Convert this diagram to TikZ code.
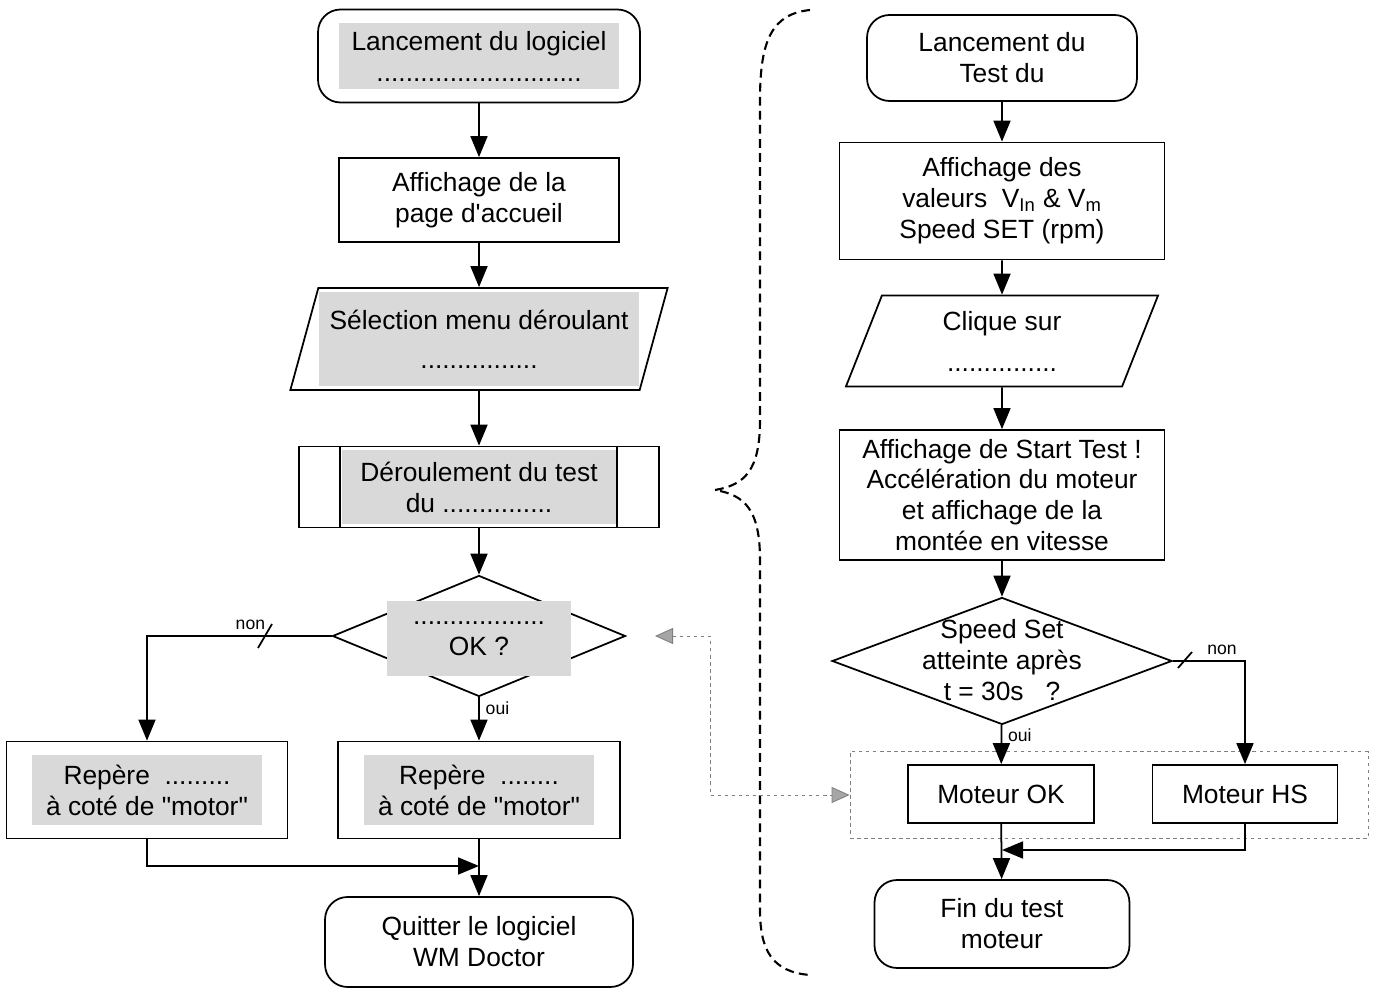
\documentclass[tikz,border=0pt]{standalone}
\usepackage{fontspec}
\setmainfont{Liberation Sans}
\usetikzlibrary{shapes.geometric,arrows.meta}
\setlength{\fboxsep}{0pt}
% texte sur fond grise
\newcommand{\grise}[3]{\colorbox{black!15}{\parbox[c][#2][c]{#1}{\centering #3}}}
% texte qui ne change pas la taille du losange
\newcommand{\centre}[1]{\smash{\makebox[0pt]{\raisebox{-0.18cm}{\begin{tabular}{@{}c@{}}#1\end{tabular}}}}}
\begin{document}
\begin{tikzpicture}[x=0.02cm,y=-0.02cm,line width=1pt,
	every node/.style={font=\fontsize{15}{17.6}\selectfont,align=center},
	boite/.style={rectangle,draw,fill=white,inner sep=0pt},
	debut/.style={boite,rounded corners=0.45cm},
	saisie/.style={trapezium,trapezium left angle=73.5,trapezium right angle=106.5,trapezium stretches=true,draw,fill=white,inner sep=0pt},
	test/.style={diamond,draw,fill=white,inner sep=0pt},
	fleche/.style={-{Triangle[length=0.42cm,width=0.34cm]}},
	lien/.style={draw=black!50,line width=0.5pt,dash pattern=on 2pt off 2pt,{Triangle[length=0.36cm,width=0.32cm,fill=black!35]}-{Triangle[length=0.36cm,width=0.32cm,fill=black!35]}},
	cadre/.style={draw=black!50,line width=0.5pt,dash pattern=on 2pt off 2pt,minimum width=10.36cm,minimum height=1.74cm},
	accolade/.style={line width=1.2pt,dash pattern=on 5pt off 3pt},
	petit/.style={font=\fontsize{10}{12}\selectfont}]
	\useasboundingbox (0,0) rectangle (1374,989);
	% colonne de gauche
	\node (start1) at (479,56) [debut,minimum width=6.44cm,minimum height=1.86cm] {\grise{5.6cm}{1.34cm}{Lancement du logiciel\\............................}};
	\node (affich) at (479,200) [boite,minimum width=5.6cm,minimum height=1.68cm] {Affichage de la\\page d\textquotesingle accueil};
	\node (selec) at (479,339) [saisie,minimum width=7.56cm,minimum height=2.04cm] {\grise{6.4cm}{1.88cm}{S\'election menu d\'eroulant\\[0.16cm]................}};
	\node (deroul) at (479,487) [boite,minimum width=7.2cm,minimum height=1.62cm] {\grise{5.5cm}{1.5cm}{D\'eroulement du test\\du ...............}};
	\draw ([xshift=0.84cm]deroul.north west) -- ([xshift=0.84cm]deroul.south west);
	\draw ([xshift=-0.86cm]deroul.north east) -- ([xshift=-0.86cm]deroul.south east);
	\node (decision) at (479,636) [test,minimum width=5.86cm,minimum height=2.42cm] {\centre{\grise{3.7cm}{1.5cm}{..................\\OK ?}}};
	\node (repA) at (147,790) [boite,minimum width=5.62cm,minimum height=1.94cm] {\grise{4.6cm}{1.4cm}{Rep\`ere~ .........\\\`a cot\'e de \textquotedbl motor\textquotedbl}};
	\node (repB) at (479,790) [boite,minimum width=5.64cm,minimum height=1.94cm] {\grise{4.6cm}{1.4cm}{Rep\`ere~ ........\\\`a cot\'e de \textquotedbl motor\textquotedbl}};
	\node (quit) at (479,942) [debut,minimum width=6.16cm,minimum height=1.8cm] {Quitter le logiciel\\WM Doctor};
	\coordinate (j1) at (479,866);
	\draw[fleche] (start1) -- (affich);
	\draw[fleche] (affich) -- (selec);
	\draw[fleche] (selec) -- (deroul);
	\draw[fleche] (deroul) -- (decision);
	\draw[fleche] (decision) -- (repB) node[petit,right,near start] {oui};
	\draw[fleche] (decision.west) -| (repA.north) node[petit,above,pos=0.22] {non};
	\draw (258,648) -- (272,624);
	\draw[fleche] (repB) -- (quit);
	\draw[fleche] (repA.south) |- (j1);
	% accolade
	\draw[accolade] (810,10) .. controls (772,14) and (760,40) .. (760,100) -- (760,420) .. controls (760,470) and (745,485) .. (715,490) .. controls (745,495) and (760,510) .. (760,560) -- (760,910) .. controls (760,950) and (772,972) .. (810,975);
	% colonne de droite
	\node (start2) at (1002,58) [debut,minimum width=5.4cm,minimum height=1.72cm] {Lancement du\\Test du};
	\node (affich2) at (1002,201) [boite,minimum width=6.5cm,minimum height=2.34cm] {Affichage des\\valeurs~ V\textsubscript{In} \& V\textsubscript{m}\\Speed SET (rpm)};
	\node (clique) at (1002,341) [saisie,minimum width=6.3cm,minimum height=1.82cm] {Clique sur\\[0.2cm]...............};
	\node (accel) at (1002,495) [boite,minimum width=6.5cm,minimum height=2.6cm] {Affichage de Start Test !\\Acc\'el\'eration du moteur\\et affichage de la\\mont\'ee en vitesse};
	\node (speed) at (1002,661) [test,minimum width=6.8cm,minimum height=2.54cm] {\centre{Speed Set\\atteinte apr\`es\\t = 30s~~ ?}};
	\node (group) at (1109,795) [cadre] {};
	\node (motok) at (1001,794) [boite,minimum width=3.72cm,minimum height=1.16cm] {Moteur OK};
	\node (moths) at (1245,794) [boite,minimum width=3.7cm,minimum height=1.16cm] {Moteur HS};
	\node (fin) at (1002,924) [debut,minimum width=5.1cm,minimum height=1.76cm] {Fin du test\\moteur};
	\coordinate (j2) at (1002,850);
	\draw[fleche] (start2) -- (affich2);
	\draw[fleche] (affich2) -- (clique);
	\draw[fleche] (clique) -- (accel);
	\draw[fleche] (accel) -- (speed);
	\draw[fleche] (speed) -- (motok) node[petit,right,near start] {oui};
	\draw[fleche] (speed.east) -| (moths.north) node[petit,above,pos=0.34] {non};
	\draw (1178,668) -- (1192,652);
	\draw[fleche] (motok) -- (fin);
	\draw[fleche] (moths.south) |- (j2);
	% liaison grise
	\coordinate (g1) at (655,636);
	\coordinate (g2) at (710,636);
	\draw[lien] (g1) -- (g2) |- (group.west);
\end{tikzpicture}
\end{document}
